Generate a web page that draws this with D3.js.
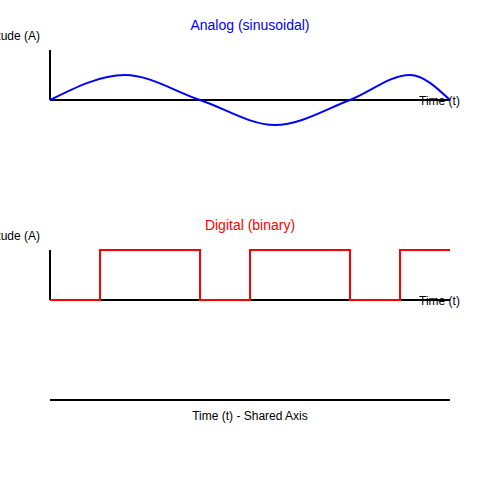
<!DOCTYPE html>
<html><head><meta charset="utf-8">
<script src="https://cdn.jsdelivr.net/npm/d3@7"></script>
<style>body{margin:0;background:#fff}text{font-family:"Liberation Sans",Arial,sans-serif}</style>
</head><body><svg id="c" width="500" height="500"></svg>
<script>
const analogT = [0, 1.5, 3, 4.5, 6, 7.2, 8];
const analogA = [0, 0.5, 0, -0.5, 0, 0.5, 0];
const digitalT = [0, 1, 3, 4, 6, 7, 8];
const digitalA = [0, 1, 0, 1, 0, 1, 1];
const titles = ["Analog (sinusoidal)", "Digital (binary)"];

const svg = d3.select("#c");
const x = d3.scaleLinear().domain([0, 8]).range([50, 450]);

function panel(top, title, color, t, a, curve) {
  const y = d3.scaleLinear().domain([0, 1]).range([top + 100, top + 50]);
  const g = svg.append("g");
  g.append("line").attr("x1", x(0)).attr("x2", x(8)).attr("y1", y(0)).attr("y2", y(0)).attr("stroke", "#000").attr("stroke-width", 2);
  g.append("line").attr("x1", x(0)).attr("x2", x(0)).attr("y1", y(0)).attr("y2", y(1)).attr("stroke", "#000").attr("stroke-width", 2);
  g.append("path").datum(t.map((v, i) => [v, a[i]]))
    .attr("d", d3.line().x(d => x(d[0])).y(d => y(d[1])).curve(curve))
    .attr("fill", "none").attr("stroke", color).attr("stroke-width", 2);
  g.append("text").attr("x", 250).attr("y", top + 30).attr("text-anchor", "middle").attr("fill", color).attr("font-size", 14).text(title);
  g.append("text").attr("x", 40).attr("y", top + 40).attr("text-anchor", "end").attr("font-size", 12).text("Amplitude (A)");
  g.append("text").attr("x", 419).attr("y", top + 105).attr("font-size", 12).text("Time (t)");
}
panel(0, titles[0], "blue", analogT, analogA, d3.curveMonotoneX);
panel(200, titles[1], "red", digitalT, digitalA, d3.curveStepAfter);

svg.append("line").attr("x1", x(0)).attr("x2", x(8)).attr("y1", 400).attr("y2", 400).attr("stroke", "#000").attr("stroke-width", 2);
svg.append("text").attr("x", 250).attr("y", 420).attr("text-anchor", "middle").attr("font-size", 12).text("Time (t) - Shared Axis");
</script></body></html>
